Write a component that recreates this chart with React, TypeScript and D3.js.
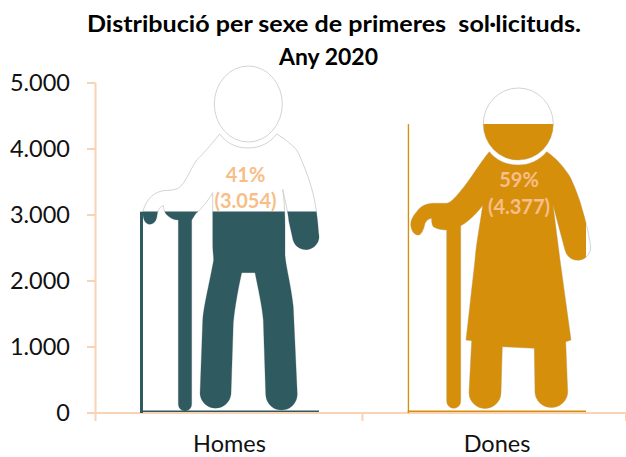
import React from "react";
import * as d3 from "d3";

const categories = ["Homes", "Dones"];
const values = [3054, 4377];
const percents = ["41%", "59%"];
const valueLabels = ["(3.054)", "(4.377)"];
const ticks = [0, 1000, 2000, 3000, 4000, 5000];
const tickLabels = ["0", "1.000", "2.000", "3.000", "4.000", "5.000"];
const colors = ["#2F5A60", "#D68F0B"];
const titleLines = ["Distribució per sexe de primeres  sol·licituds.", "Any 2020"];

const y = d3.scaleLinear().domain([0, 5000]).range([413, 83]);
const xEdges = [95.5, 362.5, 626];
const barLeft = [140, 407.5];
const barRight = [319, 586];
const labelX = [245.5, 519];
const labelY = [[181.5, 208], [186.5, 214]];
const titleSpan = [[87, 494], [279, 99]];
const titleBase = [32, 65];
const catCentre = [229.5, 497];

const manBody =
  "M219.7 134 C210 146 204 153 196.7 160 C190 170 185 184 178.3 188.3 C172 191 168 190 163.3 190.7 C155 192 147 198 143.3 210 C142 218 145 224.3 150 224.3 C154 224.3 156.5 220 157 216 C157.5 211 159 207 163.3 205.7 C164 211 165 213 167 215 C170 218 174 220 178.3 220 L178.3 404.3 A6.7 6.7 0 0 0 191.7 404.3 L191.7 220 C194 217 195 214 196.7 212.7 C201 209 208 201 212.7 192.7 L212.7 246 C213 255 214 258 213.3 262 C208 290 204 305 202.7 320 L200 394.3 A15.6 15.6 0 0 0 231 394.3 L233.3 323 C235 305 239 285 241.7 272.7 L255 272.7 C258 288 262 305 263.3 320 L265.7 394.3 A15.8 15.8 0 0 0 297.3 394.3 L293.3 306.7 C291 285 286 268 285 255 L285 225 C285 212 284 198 282.7 189.3 C285 200 288 212 289 222 L293 240 A13 13 0 0 0 318.6 233 C317 210 314 195 310 183 C306 170 300 156 296.7 150 C290 143 284 138 276.7 134 C270 143 260 148 248 148 C236 148 226 143 219.7 134 Z";

const womanBody =
  "M489.3 151.7 C480 163 470 180 460 191.7 C455 198 450 203 446.7 203.3 L433.3 203.3 C425 203.5 420 207 416.7 211.7 C412 217 410 222 411 226.7 C412 232 415 235 418.3 235 C422 235 424 228 425 223.3 C427 220 429 218.5 431.7 218.3 C431.5 222 432 225 433.3 226.7 C437 229 442 230 446.7 230 L446.7 401.3 A7 7 0 0 0 460.7 401.3 L460.7 225.7 C468 222 476 214 481.7 206.7 L482.7 205 C480 225 476 245 475 260 L466 340 L471.7 340.7 L469 392.5 A16 16 0 0 0 501 392.5 L502.3 346.7 L534.3 348.3 L535 392.5 A16.4 16.4 0 0 0 567.7 392.5 L565.7 341.7 L571 340 L560 260 L553 205 L565 250 A13 13 0 0 0 590.7 246.7 C589 235 586 222 583.3 213 C580 200 575 187 570 176.7 C564 167 556 158 546.7 151.7 C540 160 530 165 518.3 165 C506 165 496 160 489.3 151.7 Z";

const heads = [
  { cx: 248.3, cy: 104, rx: 34, ry: 38 },
  { cx: 518.3, cy: 124, rx: 35, ry: 36 },
];
const bodies = [manBody, womanBody];
const FONT = "Lato, Carlito, 'Open Sans', sans-serif";
const AXIS = "#FAD2B4";
const LABEL = "#F8BE88";

export default function App() {
  return (
    <svg width={626} height={457} style={{ position: "absolute", left: 0, top: 0, background: "#fff" }}>
      <defs>
        {categories.map((c, i) => (
          <clipPath id={`clip${i}`} key={c}>
            <rect x={barLeft[i]} y={y(values[i])} width={barRight[i] - barLeft[i]} height={y(0) - y(values[i])} />
          </clipPath>
        ))}
      </defs>
      <line x1={95.5} x2={95.5} y1={y(5000)} y2={y(0)} stroke={AXIS} strokeWidth={2} />
      <line x1={87} x2={626} y1={y(0)} y2={y(0)} stroke={AXIS} strokeWidth={2} />
      {ticks.map((t, i) => (
        <g key={t}>
          <line x1={87} x2={95.5} y1={y(t)} y2={y(t)} stroke={AXIS} strokeWidth={2} />
          <text x={70} y={y(t) + 8} textAnchor="end" fontFamily={FONT} fontSize={23.5} fill="#111">
            {tickLabels[i]}
          </text>
        </g>
      ))}
      {xEdges.map((x) => (
        <line key={x} x1={x} x2={x} y1={y(0)} y2={y(0) + 8} stroke={AXIS} strokeWidth={2} />
      ))}
      {categories.map((c, i) => (
        <g key={c}>
          <path d={bodies[i]} fill="#fff" stroke="#C8C8C8" strokeWidth={0.8} />
          <ellipse {...heads[i]} fill="#fff" stroke="#C8C8C8" strokeWidth={0.8} />
          <g clipPath={`url(#clip${i})`}>
            <path d={bodies[i]} fill={colors[i]} />
            <ellipse {...heads[i]} fill={colors[i]} />
            <rect x={barLeft[i]} y={y(values[i])} width={i === 0 ? 3 : 1.6} height={y(0) - y(values[i])} fill={colors[i]} />
            <rect x={barLeft[i]} y={y(0) - 2.5} width={barRight[i] - barLeft[i]} height={1.5} fill={colors[i]} />
          </g>
          <text x={labelX[i]} y={labelY[i][0]} textAnchor="middle" fontFamily={FONT} fontWeight={700} fontSize={20} fill={LABEL}>
            {percents[i]}
          </text>
          <text x={labelX[i]} y={labelY[i][1]} textAnchor="middle" fontFamily={FONT} fontWeight={700} fontSize={20} fill={LABEL}>
            {valueLabels[i]}
          </text>
          <text x={catCentre[i]} y={452} textAnchor="middle" fontFamily={FONT} fontSize={23.5} fill="#111">
            {c}
          </text>
        </g>
      ))}
      {titleLines.map((t, i) => (
        <text key={i} x={titleSpan[i][0]} y={titleBase[i]} textLength={titleSpan[i][1]} lengthAdjust="spacingAndGlyphs" fontFamily={FONT} fontWeight={700} fontSize={22} fill="#000" style={{ whiteSpace: "pre" }}>
          {t}
        </text>
      ))}
    </svg>
  );
}
